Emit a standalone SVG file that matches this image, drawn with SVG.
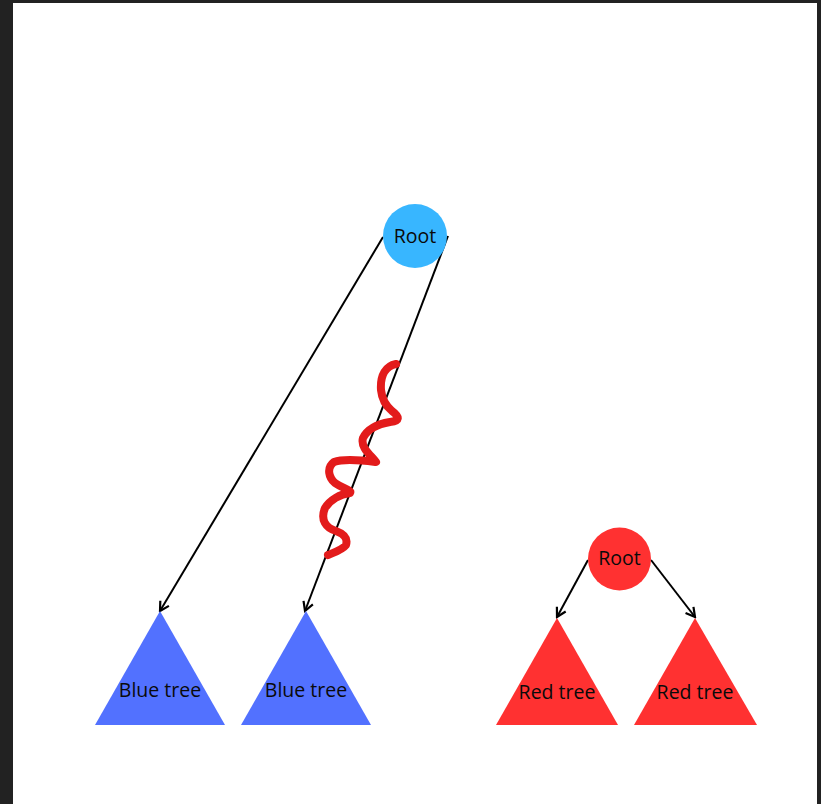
<svg xmlns="http://www.w3.org/2000/svg" width="821" height="804" viewBox="0 0 821 804">
<defs>
<marker id="arr" viewBox="0 0 14 14" refX="12" refY="7" markerWidth="14" markerHeight="14" markerUnits="userSpaceOnUse" orient="auto">
<path d="M3,2 L12,7 L3,12" fill="none" stroke="#000" stroke-width="2.2" stroke-linejoin="miter"/>
</marker>
<style>
.lbl{font-family:"Open Sans","Liberation Sans",sans-serif;font-size:19.5px;fill:#0a0a0a;text-anchor:middle;dominant-baseline:central}
.edge{stroke:#000;stroke-width:2;fill:none}
</style>
</defs>
<rect x="0" y="0" width="821" height="804" fill="#222222"/>
<rect x="13" y="3" width="804" height="801" fill="#ffffff"/>
<g id="connectors">
<line class="edge" x1="383" y1="237" x2="160" y2="611" marker-end="url(#arr)"/>
<line class="edge" x1="448" y1="236" x2="305" y2="611" marker-end="url(#arr)"/>
<line class="edge" x1="588" y1="560" x2="557" y2="617" marker-end="url(#arr)"/>
<line class="edge" x1="651" y1="560" x2="695" y2="617" marker-end="url(#arr)"/>
</g>
<g id="root-blue">
<circle cx="415" cy="236" r="32" fill="#38b6ff"/>
<text class="lbl" x="415" y="235">Root</text>
</g>
<g id="blue-tree-1">
<polygon points="160,611 225,725 95,725" fill="#5271ff"/>
<text class="lbl" x="160" y="689">Blue tree</text>
</g>
<g id="blue-tree-2">
<polygon points="306,611 371,725 241,725" fill="#5271ff"/>
<text class="lbl" x="306" y="689">Blue tree</text>
</g>
<g id="root-red">
<circle cx="619.5" cy="559" r="31.5" fill="#ff3131"/>
<text class="lbl" x="619.5" y="557">Root</text>
</g>
<g id="red-tree-1">
<polygon points="557,618 618,725 496,725" fill="#ff3131"/>
<text class="lbl" x="557" y="691">Red tree</text>
</g>
<g id="red-tree-2">
<polygon points="695,618 757,725 634,725" fill="#ff3131"/>
<text class="lbl" x="695" y="691">Red tree</text>
</g>
<g id="squiggle">
<path d="M396,364 C386,366 380,375 381,390 C382,400 386,406 392,411 C400,417 400,421 390,422 C378,424 368,428 363,438 C360,448 372,456 376,462 C368,461 345,458 334,462 C326,468 329,478 335,483 C342,488 352,490 350,493 C340,494 330,500 325,508 C320,520 326,528 336,531 C344,534 348,538 346,545 C342,550 335,552 328,555" fill="none" stroke="#e31b1b" stroke-width="8" stroke-linecap="round" stroke-linejoin="round"/>
</g>
</svg>
